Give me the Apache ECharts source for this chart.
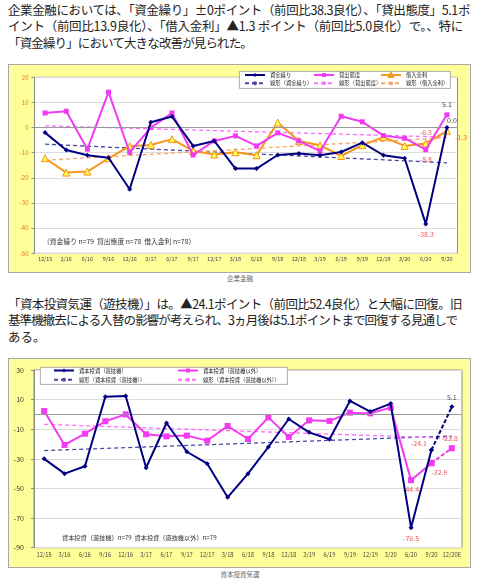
<!DOCTYPE html>
<html><head><meta charset="utf-8">
<script src="https://cdn.jsdelivr.net/npm/echarts@6/dist/echarts.min.js"></script>
<style>
html,body{margin:0;padding:0;background:#fff;width:480px;height:583px;overflow:hidden;font-family:"Noto Sans CJK JP","Noto Sans",sans-serif;}
.txt{position:absolute;left:8px;font-size:12.5px;line-height:16.5px;color:#222;}
.ln{display:block;width:max-content;white-space:nowrap;}
.box{position:absolute;left:8px;width:463px;background:#ffff99;border:1px solid #a8a8a8;box-sizing:border-box;}
.chart{position:absolute;left:8px;width:463px;}
.cap{position:absolute;left:0;width:480px;text-align:center;font-size:6.5px;line-height:8px;color:#666;}
</style></head>
<body>
<div class="txt" style="top:1.5px">
<div class="ln" data-w="462">企業金融においては、「資金繰り」±0ポイント（前回比38.3良化）、「貸出態度」5.1ポ</div>
<div class="ln" data-w="455">イント（前回比13.9良化）、「借入金利」▲1.3 ポイント（前回比5.0良化）で。、特に</div>
<div class="ln" data-w="244">「資金繰り」において大きな改善が見られた。</div>
</div>
<div class="box" style="top:64px;height:209px"></div>
<div class="chart" id="c1" style="top:64px;height:209px"></div>
<div class="cap" style="top:274px">企業金融</div>

<div class="txt" style="top:295.5px">
<div class="ln" data-w="454">「資本投資気運（遊技機）」は。▲24.1ポイント（前回比52.4良化）と大幅に回復。旧</div>
<div class="ln" data-w="449">基準機撤去による入替の影響が考えられ、3ヵ月後は5.1ポイントまで回復する見通しで</div>
<div class="ln">ある。</div>
</div>
<div class="box" style="top:358px;height:210px"></div>
<div class="chart" id="c2" style="top:358px;height:210px"></div>
<div class="cap" style="top:570px">資本投資気運</div>

<script>
// ---------- Chart 1 data (企業金融) ----------
const categories1 = ['12/15','3/16','6/16','9/16','12/16','3/17','6/17','9/17','12/17','3/18','6/18','9/18','12/18','3/19','6/19','9/19','12/19','3/20','6/20','9/20'];
const fundsValues   = [-2.0, -8.9, -11.0, -12.0, -24.5, 2.1, 4.4, -7.3, -5.3, -16.3, -16.3, -10.9, -10.3, -11.0, -9.7, -6.0, -11.0, -12.2, -38.3, 0.0];
const lendingValues = [5.8, 6.5, -8.6, 14.1, -9.9, 0.0, 5.8, -10.9, -5.3, -3.3, -7.3, -2.1, -5.3, -9.4, 4.5, 2.3, -3.2, -4.2, -8.8, 5.1];
const rateValues    = [-12.2, -17.9, -17.5, -12.2, -7.4, -6.9, -4.6, -9.3, -10.7, -9.8, -11.0, 2.0, -5.3, -7.0, -11.3, -7.0, -3.8, -7.3, -6.3, -1.3];
const fundsTrend   = [-6.6, -14.0];
const lendingTrend = [0.7, -3.8];
const rateTrend    = [-13.0, -4.0];
const yTicks1 = { min: -50, max: 20, step: 10 };

// ---------- Chart 2 data (資本投資気運) ----------
const categories2 = ['12/15','3/16','6/16','9/16','12/16','3/17','6/17','9/17','12/17','3/18','6/18','9/18','12/18','3/19','6/19','9/19','12/19','3/20','6/20','9/20','12/20E'];
const pachiValues = [-30.0, -40.0, -35.0, 12.0, 12.5, -36.0, -5.8, -25.2, -33.3, -56.0, -40.0, -22.0, -3.1, -12.1, -16.8, 9.1, 1.9, 7.3, -76.5, -24.1];
const otherValues = [2.3, -20.6, -13.0, -4.6, 0.0, -13.4, -14.8, -14.3, -17.7, -7.8, -16.6, -2.0, -15.2, -4.0, -4.4, 1.2, 0.7, 4.6, -44.4, -32.9];
const pachiForecast = [5.1];
const otherForecast = [-22.8];
const pachiTrend = [-24.4, -14.6];
const otherTrend = [-6.7, -16.1];
const yTicks2 = { min: -90, max: 30, step: 20 };

// ---------- helpers ----------
const RED = '#e85a5a', DARK = '#444';
const FONT = '"Noto Sans CJK JP","Noto Sans",sans-serif';
function endpoints(n, pair) { const a = new Array(n).fill(null); a[0] = pair[0]; a[n - 1] = pair[1]; return a; }
function labeled(values, specs) {
  return values.map((v, i) => specs[i] ? { value: v, label: Object.assign({ show: true, fontSize: 7, fontFamily: FONT, formatter: p => Number(p.value).toFixed(1) }, specs[i]) } : v);
}
function forecast(values, fc) { const a = new Array(values.length + fc.length).fill(null); a[values.length - 1] = values[values.length - 1]; fc.forEach((v, i) => a[values.length + i] = v); return a; }
function trendSeries(name, data, color) {
  return { name, type: 'line', data, connectNulls: true, symbol: 'none', z: 1, color,
    lineStyle: { color, width: 1.3, type: [4, 3] }, silent: true };
}
const zeroLine = { silent: true, symbol: 'none', label: { show: false }, lineStyle: { color: '#999', width: 1, type: 'solid' }, data: [{ yAxis: 0 }] };
function legendCol(names, left, top, gap) {
  return { data: names, orient: 'vertical', left, top, padding: 0, itemGap: gap, itemWidth: 20, itemHeight: 5,
    textStyle: { fontSize: 5.3, fontFamily: FONT, color: '#222', lineHeight: 6 }, z: 6, selectedMode: false };
}

// ---------- Chart 1 ----------
const c1 = echarts.init(document.getElementById('c1'));
const n1 = categories1.length;
c1.setOption({
  animation: false,
  backgroundColor: 'transparent',
  grid: { left: 26.5, top: 13.3, width: 423, height: 176, show: true, backgroundColor: '#fff', borderColor: '#8c8c8c', borderWidth: 1 },
  xAxis: { type: 'category', data: categories1, boundaryGap: true, axisLine: { show: false }, axisTick: { show: false },
    axisLabel: { fontSize: 5.5, color: '#444', interval: 0, margin: 3, fontFamily: FONT } },
  yAxis: { type: 'value', min: yTicks1.min, max: yTicks1.max, interval: yTicks1.step,
    axisLine: { show: true, lineStyle: { color: '#8c8c8c' } }, axisTick: { show: true, length: 3, lineStyle: { color: '#8c8c8c' } },
    axisLabel: { fontSize: 6, color: '#e8741c', margin: 6, fontFamily: FONT },
    splitLine: { lineStyle: { color: '#dcdcdc' } } },
  legend: [
    legendCol(['資金繰り', '線形（資金繰り）'], 236, 8, 2.3),
    legendCol(['貸出態度', '線形（貸出態度）'], 305, 8, 2.3),
    legendCol(['借入金利', '線形（借入金利）'], 372, 8, 2.3)
  ],
  graphic: [
    { type: 'rect', left: 231, top: 7, shape: { width: 211, height: 17 }, style: { fill: '#fff', stroke: '#999', lineWidth: 0.8 }, z: 5 },
    { type: 'text', left: 35, top: 174.5, style: { text: '（資金繰り n=79  貸出態度 n=78  借入金利 n=78）', fontSize: 6.8, fontFamily: FONT, fill: '#333' }, z: 5 }
  ],
  series: [
    trendSeries('線形（資金繰り）', endpoints(n1, fundsTrend), '#4747a3'),
    trendSeries('線形（貸出態度）', endpoints(n1, lendingTrend), '#ff6cff'),
    trendSeries('線形（借入金利）', endpoints(n1, rateTrend), '#f5a66a'),
    { name: '借入金利', type: 'line', data: labeled(rateValues, { 18: { position: 'top', color: RED, distance: 4 }, 19: { position: 'right', color: RED, offset: [-1, 6] } }),
      color: '#f5961e', lineStyle: { color: '#f5961e', width: 2 }, symbol: 'triangle', symbolSize: 7,
      itemStyle: { color: '#ffff55', borderColor: '#f5961e', borderWidth: 1 }, z: 3 },
    { name: '貸出態度', type: 'line', data: labeled(lendingValues, { 18: { position: 'bottom', color: RED, distance: 4 }, 19: { position: 'top', color: DARK, distance: 4 } }),
      color: '#f23af2', lineStyle: { width: 2 }, symbol: 'rect', symbolSize: 5, z: 4 },
    { name: '資金繰り', type: 'line', data: labeled(fundsValues, { 18: { position: 'bottom', color: RED, distance: 4 }, 19: { position: 'top', color: DARK, distance: 2, offset: [5, 1] } }),
      color: '#000080', lineStyle: { width: 2 }, symbol: 'diamond', symbolSize: 5, z: 5, markLine: zeroLine }
  ]
});

// ---------- Chart 2 ----------
const c2 = echarts.init(document.getElementById('c2'));
const n2 = categories2.length;
c2.setOption({
  animation: false,
  backgroundColor: 'transparent',
  grid: { left: 26, top: 12, width: 428, height: 177.7, show: true, backgroundColor: '#fff', borderColor: '#8c8c8c', borderWidth: 1 },
  xAxis: { type: 'category', data: categories2, boundaryGap: true, axisLine: { show: false }, axisTick: { show: false },
    axisLabel: { fontSize: 5.8, color: '#444', interval: 0, margin: 4, fontFamily: FONT } },
  yAxis: { type: 'value', min: yTicks2.min, max: yTicks2.max, interval: yTicks2.step,
    axisLine: { show: true, lineStyle: { color: '#8c8c8c' } }, axisTick: { show: true, length: 3, lineStyle: { color: '#8c8c8c' } },
    axisLabel: { fontSize: 7, color: '#333', margin: 10, fontFamily: FONT },
    splitLine: { lineStyle: { color: '#dcdcdc' } } },
  legend: [
    legendCol(['資本投資（遊技機）', '線形（資本投資（遊技機））'], 45, 9.5, 3.3),
    legendCol(['資本投資（遊技機以外）', '線形（資本投資（遊技機以外））'], 169, 9.5, 3.3)
  ],
  graphic: [
    { type: 'rect', left: 32, top: 9, shape: { width: 247, height: 17 }, style: { fill: '#fff', stroke: '#999', lineWidth: 0.8 }, z: 5 },
    { type: 'text', left: 54, top: 177, style: { text: '資本投資（遊技機）n=79  資本投資（遊技機以外）n=79', fontSize: 6.2, fontFamily: FONT, fill: '#333' }, z: 5 }
  ],
  series: [
    trendSeries('線形（資本投資（遊技機））', endpoints(n2, pachiTrend), '#4747a3'),
    trendSeries('線形（資本投資（遊技機以外））', endpoints(n2, otherTrend), '#ff6cff'),
    { name: '資本投資（遊技機以外）', type: 'line', data: labeled(otherValues, { 18: { position: 'bottom', color: RED, distance: 3 }, 19: { position: 'bottom', color: RED, distance: 3, offset: [8, 0] } }),
      color: '#f23af2', lineStyle: { width: 2 }, symbol: 'rect', symbolSize: 6, z: 4 },
    { name: '資本投資（遊技機以外）予測', type: 'line', data: labeled(forecast(otherValues, otherForecast), { 20: { position: 'top', color: RED, distance: 3, offset: [-2, 0] } }),
      connectNulls: false, color: '#f23af2', lineStyle: { width: 2, type: [4, 2] }, symbol: 'rect', symbolSize: 6, z: 4 },
    { name: '資本投資（遊技機）', type: 'line', data: labeled(pachiValues, { 18: { position: 'bottom', color: RED, distance: 5 }, 19: { position: 'left', color: RED, distance: 2, offset: [0, -7] } }),
      color: '#000080', lineStyle: { width: 2 }, symbol: 'diamond', symbolSize: 5, z: 5, markLine: zeroLine },
    { name: '資本投資（遊技機）予測', type: 'line', data: labeled(forecast(pachiValues, pachiForecast), { 20: { position: 'top', color: DARK, distance: 4 } }),
      color: '#000080', lineStyle: { width: 2, type: [4, 2] }, symbol: 'diamond', symbolSize: 5, z: 5 }
  ]
});

// fit paragraph lines to the measured widths
document.querySelectorAll('.ln[data-w]').forEach(el => {
  const target = +el.dataset.w;
  const w = el.getBoundingClientRect().width;
  const n = el.textContent.length;
  el.style.letterSpacing = ((target - w) / n).toFixed(3) + 'px';
});
</script>
</body></html>
